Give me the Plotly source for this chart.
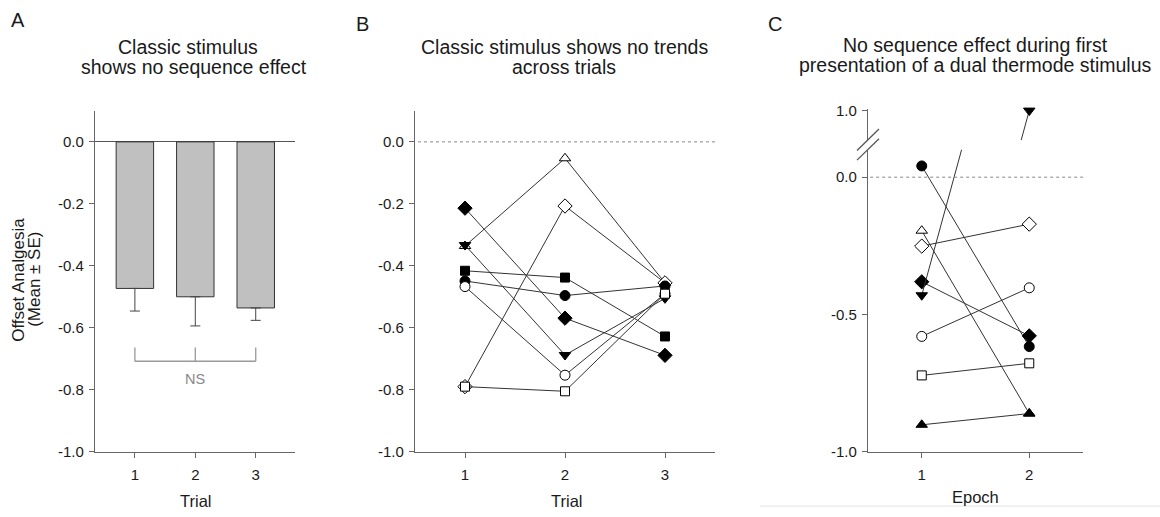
import plotly.graph_objects as go

# ---------------- data ----------------
trials_A = [1, 2, 3]
bar_means = [-0.473, -0.500, -0.536]
bar_se = [0.073, 0.094, 0.040]

trials_B = [1, 2, 3]
B_open_triangle = [-0.336, -0.053, -0.455]
B_filled_downtri = [-0.333, -0.688, -0.505]
B_open_diamond = [-0.790, -0.207, -0.455]
B_filled_diamond = [-0.214, -0.569, -0.689]
B_filled_square = [-0.416, -0.438, -0.628]
B_filled_circle = [-0.449, -0.496, -0.465]
B_open_circle = [-0.467, -0.753, -0.490]
B_open_square = [-0.790, -0.805, -0.490]

epochs_C = [1, 2]
C_filled_circle = [0.041, -0.617]
C_open_triangle = [-0.195, -0.861]
C_open_diamond = [-0.251, -0.171]
C_filled_diamond = [-0.381, -0.578]
C_filled_downtri = [-0.430, 1.000]
C_open_circle = [-0.580, -0.403]
C_open_square = [-0.722, -0.678]
C_filled_triangle = [-0.902, -0.861]

yticks_AB = [0.0, -0.2, -0.4, -0.6, -0.8, -1.0]
yticks_C = [0.0, -0.5, -1.0]
yticks_C_upper = [1.0]

# ---------------- geometry helpers ----------------
W, H = 1160, 517
def px(x):
    return x / W
def py(y):
    return 1 - y / H

FONT = "Liberation Sans, Arial, sans-serif"
AX = "#666666"
TXT = "#1a1a1a"
LINE = "#333333"

STYLE = {
    "open_triangle": ("triangle-up", False, 10),
    "filled_downtri": ("triangle-down", True, 10),
    "open_diamond": ("diamond", False, 11),
    "filled_diamond": ("diamond", True, 11),
    "filled_square": ("square", True, 9),
    "filled_circle": ("circle", True, 10),
    "open_circle": ("circle", False, 10),
    "open_square": ("square", False, 9),
    "filled_triangle": ("triangle-up", True, 10),
}

def marker(key, opacity=None):
    sym, filled, size = STYLE[key]
    m = dict(symbol=sym, size=size, color="black" if filled else "white",
             line=dict(color="black", width=1))
    if opacity is not None:
        m["opacity"] = opacity
    return m

fig = go.Figure()

# ---------------- Panel A ----------------
fig.add_trace(go.Bar(
    x=trials_A, y=bar_means, width=0.62,
    marker=dict(color="#c0c0c0", line=dict(color="#333333", width=1)),
    error_y=dict(type="data", symmetric=False, array=[0] * len(bar_se),
                 arrayminus=bar_se, color="#444444", thickness=1, width=5),
    xaxis="x", yaxis="y", showlegend=False))

# ---------------- Panel B ----------------
B_series = [
    ("open_triangle", B_open_triangle),
    ("filled_downtri", B_filled_downtri),
    ("open_diamond", B_open_diamond),
    ("filled_diamond", B_filled_diamond),
    ("filled_square", B_filled_square),
    ("filled_circle", B_filled_circle),
    ("open_circle", B_open_circle),
    ("open_square", B_open_square),
]
for key, vals in B_series:
    fig.add_trace(go.Scatter(
        x=trials_B, y=vals, mode="lines+markers",
        line=dict(color=LINE, width=1), marker=marker(key),
        xaxis="x2", yaxis="y2", showlegend=False))

# ---------------- Panel C ----------------
C_series = [
    ("filled_circle", C_filled_circle),
    ("open_triangle", C_open_triangle),
    ("open_diamond", C_open_diamond),
    ("filled_diamond", C_filled_diamond),
    ("filled_downtri", C_filled_downtri),
    ("open_circle", C_open_circle),
    ("open_square", C_open_square),
    ("filled_triangle", C_filled_triangle),
]
C_UPPER = [0.893, 1.006]
for key, vals in C_series:
    fig.add_trace(go.Scatter(
        x=epochs_C, y=vals, mode="lines+markers",
        line=dict(color=LINE, width=1), marker=marker(key),
        xaxis="x3", yaxis="y3", showlegend=False))
# upper (broken) segment of panel C
fig.add_trace(go.Scatter(
    x=epochs_C, y=C_filled_downtri, mode="lines+markers", cliponaxis=False,
    line=dict(color=LINE, width=1),
    marker=marker("filled_downtri",
                  opacity=[1 if v >= C_UPPER[0] else 0 for v in C_filled_downtri]),
    xaxis="x3", yaxis="y4", showlegend=False))

# ---------------- axes ----------------
tickfont = dict(family=FONT, size=15, color=TXT)
common_x = dict(showline=True, linecolor=AX, linewidth=1.3, ticks="outside",
                ticklen=5, tickcolor=AX, tickwidth=1.3, showgrid=False, zeroline=False,
                tickfont=tickfont, ticklabelstandoff=4)
common_y = dict(showline=True, linecolor=AX, linewidth=1.3, ticks="outside",
                ticklen=5, tickcolor=AX, tickwidth=1.3, showgrid=False, tickfont=tickfont,
                ticklabelstandoff=2)

ydom_AB = [py(458), py(107)]
fig.update_layout(
    xaxis=dict(domain=[px(95), px(295)], range=[0.34, 3.65], anchor="y",
               tickvals=trials_A, ticktext=[str(t) for t in trials_A], **common_x),
    yaxis=dict(domain=ydom_AB, range=[-1.0, 0.1], anchor="x",
               tickvals=yticks_AB, ticktext=[f"{v:.1f}" for v in yticks_AB],
               zeroline=True, zerolinecolor="#555555", zerolinewidth=1.2, **common_y),
    xaxis2=dict(domain=[px(415), px(715)], range=[0.5, 3.5], anchor="y2",
                tickvals=trials_B, ticktext=[str(t) for t in trials_B], **common_x),
    yaxis2=dict(domain=ydom_AB, range=[-1.0, 0.1], anchor="x2",
                tickvals=yticks_AB, ticktext=[f"{v:.1f}" for v in yticks_AB],
                zeroline=False, **common_y),
    xaxis3=dict(domain=[px(868), px(1083)], range=[0.5, 2.5], anchor="y3",
                tickvals=epochs_C, ticktext=[str(t) for t in epochs_C], **common_x),
    yaxis3=dict(domain=[py(458), py(147)], range=[-1.0, 0.1], anchor="x3",
                tickvals=yticks_C, ticktext=[f"{v:.1f}" for v in yticks_C],
                zeroline=False, **common_y),
    yaxis4=dict(domain=[py(137), py(105)], range=C_UPPER, anchor="x3",
                tickvals=yticks_C_upper, ticktext=[f"{v:.1f}" for v in yticks_C_upper],
                zeroline=False, **common_y),
    bargap=0.3,
)

# ---------------- shapes ----------------
shapes = []
# dotted zero lines
shapes.append(dict(type="line", xref="x2 domain", yref="y2", x0=0.01, x1=1, y0=0, y1=0,
                   line=dict(color="#888888", width=1, dash="dot")))
shapes.append(dict(type="line", xref="x3 domain", yref="y3", x0=0.01, x1=1, y0=0, y1=0,
                   line=dict(color="#888888", width=1, dash="dot")))
# NS bracket in panel A
NS_LOW, NS_HIGH = -0.708, -0.664
shapes.append(dict(type="line", xref="x", yref="y", x0=1, x1=3, y0=NS_LOW, y1=NS_LOW,
                   line=dict(color="#999999", width=1.3)))
for t in trials_A:
    shapes.append(dict(type="line", xref="x", yref="y", x0=t, x1=t, y0=NS_LOW, y1=NS_HIGH,
                       line=dict(color="#999999", width=1.3)))
# axis break marks in panel C
for yb in (136.7, 146.7):
    shapes.append(dict(type="line", xref="paper", yref="paper",
                       x0=px(857), x1=px(879), y0=py(yb + 11), y1=py(yb - 11),
                       line=dict(color="#555555", width=1.3)))
# faint rule under panel C
shapes.append(dict(type="line", xref="paper", yref="paper",
                   x0=px(760), x1=1, y0=py(514), y1=py(514),
                   line=dict(color="#e2e2e2", width=1)))
fig.update_layout(shapes=shapes)

# ---------------- annotations ----------------
ann = []
def text(x, y, s, size, color=TXT, angle=0, xanchor="center"):
    ann.append(dict(x=px(x), y=py(y), xref="paper", yref="paper", text=s,
                    showarrow=False, xanchor=xanchor, yanchor="middle",
                    textangle=angle, font=dict(family=FONT, size=size, color=color)))

text(18, 13, "A", 20)
text(362, 17, "B", 20)
text(775, 17, "C", 20)

TS = 19.5
text(188, 41, "Classic stimulus", TS)
text(194, 62, "shows no sequence effect", TS)
text(564, 41, "Classic stimulus shows no trends", TS)
text(564, 62, "across trials", TS)
text(975, 39, "No sequence effect during first", TS)
text(975, 60, "presentation of a dual thermode stimulus", TS)

text(195, 509, "Trial", 16.5)
text(566, 509, "Trial", 16.5)
text(975, 505, "Epoch", 16.5)
text(19, 281, "Offset Analgesia", 17, angle=-90)
text(35, 281, "(Mean ± SE)", 17, angle=-90)

ann.append(dict(x=2, y=-0.765, xref="x", yref="y", text="NS", showarrow=False,
                font=dict(family=FONT, size=14.5, color="#888888")))
fig.update_layout(annotations=ann)

fig.update_layout(
    width=W, height=H, margin=dict(l=0, r=0, t=0, b=0),
    paper_bgcolor="white", plot_bgcolor="white",
    font=dict(family=FONT, color=TXT),
)

fig.write_html("out.html")
